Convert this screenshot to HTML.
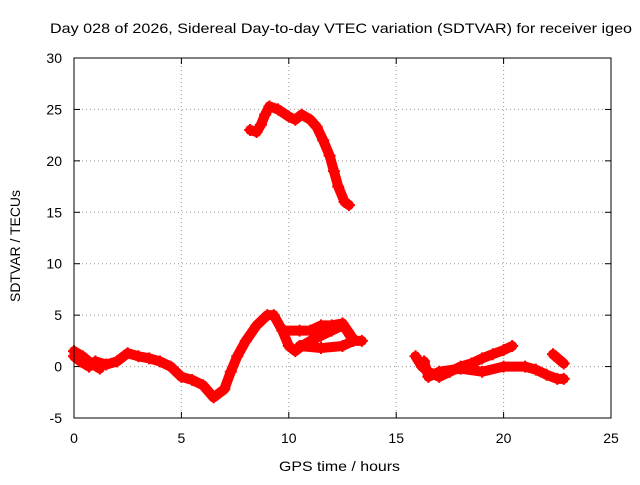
<!DOCTYPE html>
<html><head><meta charset="utf-8"><style>
body{margin:0;background:#fff;font-family:"Liberation Sans",sans-serif;}
svg text{font-family:"Liberation Sans",sans-serif;font-size:14px;fill:#000;}
</style></head><body>
<svg id="c" width="640" height="480">
<text x="50" y="33" textLength="582" lengthAdjust="spacingAndGlyphs">Day 028 of 2026, Sidereal Day-to-day VTEC variation (SDTVAR) for receiver igeo</text>
<text x="279" y="471" textLength="121" lengthAdjust="spacingAndGlyphs">GPS time / hours</text>
<text transform="translate(20,302) rotate(-90)" textLength="112" lengthAdjust="spacingAndGlyphs">SDTVAR / TECUs</text>
<g id="grid"></g><g id="data"></g>
<rect x="74" y="58" width="537" height="360" fill="none" stroke="#000"/>
</svg>
<script>
const xTicks=[0,5,10,15,20,25];
const yTicks=[-5,0,5,10,15,20,25,30];
const segA_x=[8.2,8.5,8.7,8.9,9.1,9.5,10,10.3,10.6,11,11.3,11.6,11.9,12.1,12.3,12.6,12.8];
const segA_y=[23,22.8,23.5,24.5,25.3,25,24.3,24,24.5,24,23.3,22,20.5,19,17.5,16,15.7];
const segB_x=[0,0.3,0.7,1,1.5,2,2.5,3,3.5,4,4.5,5,5.5,6,6.5,7,7.3,7.6,8,8.5,9,9.3,9.7,10,10.3,10.6,11,11.5,12,12.5,12.7,13,13.4];
const segB_y=[1,0.5,0,0.5,0.2,0.5,1.3,1,0.8,0.5,0,-1,-1.3,-1.8,-3,-2.2,-0.5,1,2.5,4,5,5,3.5,2,1.5,2,2.5,3,3.5,4,3.5,2.5,2.5];
const segC_x=[9.8,10.5,11,11.5,12,12.5,12.9];
const segC_y=[3.5,3.5,3.5,4,4,4.2,3];
const segD_x=[10.5,11.5,12.5,13];
const segD_y=[2,1.8,2,2.5];
const segE_x=[15.9,16.2,16.5,17,17.5,18,18.5,19,19.5,20,20.4];
const segE_y=[1,0,-0.5,-1,-0.5,0,0.3,0.8,1.2,1.6,2];
const segF_x=[16.3,16.5,17,18,19,20,21,21.5,22,22.5,22.8];
const segF_y=[0.5,-1,-0.5,-0.2,-0.5,0,0,-0.3,-0.8,-1.2,-1.2];
const segG_x=[22.3,22.8];
const segG_y=[1.2,0.3];
const segH_x=[0,0.4,0.8,1.2];
const segH_y=[1.5,1,0.3,-0.2];
const series=[[segA_x,segA_y],[segB_x,segB_y],[segC_x,segC_y],[segD_x,segD_y],[segE_x,segE_y],[segF_x,segF_y],[segG_x,segG_y],[segH_x,segH_y]];
const X=v=>74+v*(537/25), Y=v=>418-(v+5)*(360/35);
const NS="http://www.w3.org/2000/svg";
const grid=document.getElementById('grid'), data=document.getElementById('data');
function mk(tag,attrs,parent){const e=document.createElementNS(NS,tag);for(const k in attrs)e.setAttribute(k,attrs[k]);parent.appendChild(e);return e;}
xTicks.forEach(t=>{const x=X(t);
 if(t>0&&t<25){const l=mk('line',{x1:x,x2:x,y1:58,y2:418,stroke:'#999','stroke-dasharray':'1,3'},grid);
 
 }
 mk('line',{x1:x,x2:x,y1:418,y2:412,stroke:'#000'},grid);mk('line',{x1:x,x2:x,y1:58,y2:64,stroke:'#000'},grid);
 const tx=mk('text',{x:x,y:443,'text-anchor':'middle'},grid);tx.textContent=t;
 
 });
yTicks.forEach(t=>{const y=Y(t);
 if(t>-5&&t<30){const l=mk('line',{x1:74,x2:611,y1:y,y2:y,stroke:'#999','stroke-dasharray':'1,3'},grid);
 
 }
 mk('line',{x1:74,x2:80,y1:y,y2:y,stroke:'#000'},grid);mk('line',{x1:611,x2:605,y1:y,y2:y,stroke:'#000'},grid);
 const tx=mk('text',{x:62,y:y+5,'text-anchor':'end'},grid);tx.textContent=t;
 
 });
series.forEach(([xs,ys])=>{
 const pts=xs.map((x,i)=>X(x)+','+Y(ys[i])).join(' ');
 const p=mk('polyline',{points:pts,fill:'none',stroke:'#f00','stroke-width':10,'stroke-linejoin':'round','stroke-linecap':'round'},data);
 
 
 xs.forEach((x,i)=>{const cx=X(x),cy=Y(ys[i]);
  const m=mk('path',{d:`M${cx-6},${cy}h12M${cx},${cy-6}v12`,stroke:'#f00','stroke-width':2},data);
  
  });
});
</script>
</body></html>
